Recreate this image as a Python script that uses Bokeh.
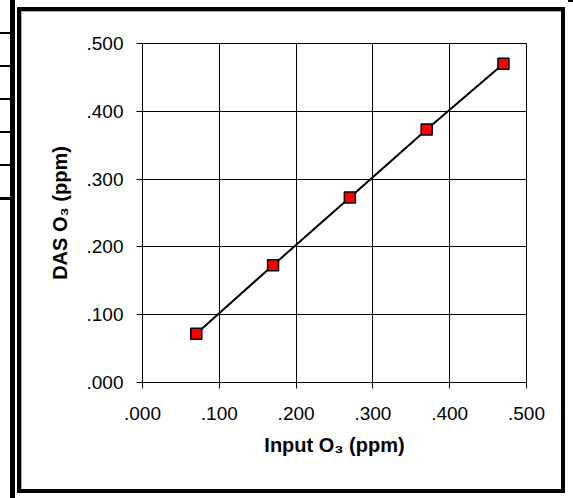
from bokeh.plotting import figure
from bokeh.models import ColumnDataSource, FixedTicker, Range1d
from bokeh.embed import file_html
from bokeh.resources import INLINE

# Data
input_o3 = [0.07, 0.17, 0.27, 0.37, 0.47]
das_o3 = [0.072, 0.173, 0.273, 0.373, 0.470]
tick_values = [0.0, 0.1, 0.2, 0.3, 0.4, 0.5]
tick_labels = [".000", ".100", ".200", ".300", ".400", ".500"]
x_title = "Input O₃ (ppm)"
y_title = "DAS O₃ (ppm)"

src = ColumnDataSource(data=dict(x=input_o3, y=das_o3))

# Page decorations drawn as CSS background rectangles (x, y, w, h, colour)
deco = [
    (10, 0, 5, 498, "#000"),      # thick left rule
    (0, 32, 10, 2, "#000"),       # table stubs
    (0, 65, 10, 2, "#000"),
    (0, 98, 10, 2, "#000"),
    (0, 131, 10, 2, "#000"),
    (0, 164, 10, 2, "#000"),
    (0, 197, 10, 3, "#000"),
    (568, 0, 5, 2, "#000"),       # top-right stub
    (17, 7, 548, 4, "#000"),      # outer box: top
    (17, 489, 548, 4, "#000"),    # bottom
    (17, 7, 4, 486, "#000"),      # left
    (561, 7, 4, 486, "#000"),     # right
    (21, 11, 1, 478, "#aaa"),     # soft inner shadow
    (21, 11, 540, 1, "#aaa"),
]
bg = ", ".join(f"linear-gradient({c},{c}) {x}px {y}px / {w}px {h}px no-repeat"
               for x, y, w, h, c in deco)

p = figure(width=573, height=498, output_backend="svg", toolbar_location=None,
           x_range=Range1d(0, 0.5), y_range=Range1d(0, 0.5),
           min_border_left=142, min_border_right=47, min_border_top=43, min_border_bottom=116,
           styles={"background": bg + ", #ffffff"})

p.background_fill_color = "white"
p.border_fill_color = None
p.outline_line_color = "black"
p.outline_line_width = 1

overrides = {v: l for v, l in zip(tick_values, tick_labels)}
for ax in (p.xaxis[0], p.yaxis[0]):
    ax.ticker = FixedTicker(ticks=tick_values)
    ax.major_label_overrides = overrides
    ax.minor_tick_line_color = None
    ax.major_tick_out = 6
    ax.major_tick_in = 0
    ax.axis_line_color = "black"
    ax.major_tick_line_color = "black"
    ax.major_label_text_font = "Liberation Sans"
    ax.major_label_text_font_size = "19px"
    ax.major_label_text_color = "black"
    ax.axis_label_text_font = "Liberation Sans"
    ax.axis_label_text_font_style = "bold"
    ax.axis_label_text_font_size = "20px"
    ax.axis_label_text_color = "black"

p.xaxis.axis_label = x_title
p.yaxis.axis_label = y_title
p.xaxis.major_label_standoff = 18
p.yaxis.major_label_standoff = 13
p.xaxis.axis_label_standoff = 11
p.yaxis.axis_label_standoff = 13

p.grid.grid_line_color = "black"
p.grid.grid_line_alpha = 1
p.grid.grid_line_width = 1
p.xgrid.ticker = FixedTicker(ticks=tick_values)
p.ygrid.ticker = FixedTicker(ticks=tick_values)

p.line("x", "y", source=src, line_color="black", line_width=2)
p.scatter("x", "y", source=src, marker="square", size=11, fill_color="#ff0000",
          line_color="black", line_width=1.5)

open("out.html", "w").write(file_html(p, INLINE))
